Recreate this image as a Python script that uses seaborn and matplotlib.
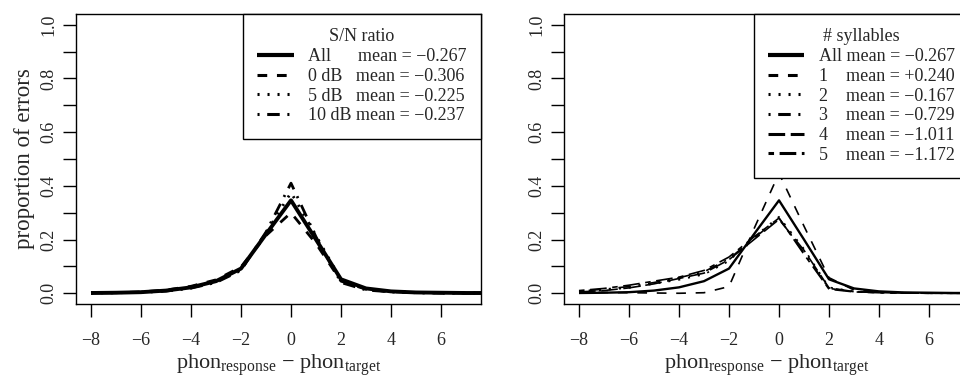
import numpy as np
import pandas as pd
import seaborn as sns
import matplotlib.pyplot as plt

sns.set_style('ticks')
plt.rcParams['font.family'] = ['Liberation Serif', 'DejaVu Serif']
plt.rcParams['mathtext.fontset'] = 'custom'
plt.rcParams['mathtext.rm'] = 'Liberation Serif'
plt.rcParams['mathtext.it'] = 'Liberation Serif:italic'
plt.rcParams['lines.scale_dashes'] = False
plt.rcParams['axes.edgecolor'] = 'black'
plt.rcParams['axes.linewidth'] = 1.0

# phoneme difference (response - target)
diff = list(range(-8, 9))

# left panel: by S/N ratio
sn_labels = ['All      mean = \u22120.267', '0 dB   mean = \u22120.306',
             '5 dB   mean = \u22120.225', '10 dB mean = \u22120.237']
sn_all = [0.001, 0.002, 0.004, 0.010, 0.022, 0.045, 0.092, 0.220, 0.346, 0.200, 0.052, 0.018, 0.007, 0.003, 0.002, 0.001, 0.001]
sn_0db = [0.001, 0.002, 0.005, 0.012, 0.026, 0.050, 0.098, 0.215, 0.300, 0.185, 0.045, 0.015, 0.006, 0.003, 0.001, 0.001, 0.0]
sn_5db = [0.001, 0.002, 0.004, 0.009, 0.020, 0.042, 0.088, 0.225, 0.375, 0.215, 0.050, 0.016, 0.006, 0.002, 0.001, 0.001, 0.0]
sn_10db = [0.001, 0.002, 0.003, 0.008, 0.019, 0.040, 0.085, 0.228, 0.410, 0.210, 0.040, 0.012, 0.005, 0.002, 0.001, 0.0, 0.0]

# right panel: by number of syllables
syl_labels = ['All mean = \u22120.267', '1    mean = +0.240', '2    mean = \u22120.167',
              '3    mean = \u22120.729', '4    mean = \u22121.011', '5    mean = \u22121.172']
syl_all = sn_all
syl_1 = [0.004, 0.003, 0.002, 0.001, 0.000, 0.002, 0.025, 0.240, 0.447, 0.250, 0.058, 0.012, 0.004, 0.002, 0.001, 0.0, 0.0]
syl_2 = [0.006, 0.012, 0.020, 0.035, 0.050, 0.070, 0.120, 0.210, 0.285, 0.165, 0.022, 0.007, 0.003, 0.001, 0.0, 0.0, 0.0]
syl_3 = [0.008, 0.015, 0.025, 0.040, 0.058, 0.080, 0.128, 0.205, 0.280, 0.150, 0.018, 0.006, 0.002, 0.001, 0.0, 0.0, 0.0]
syl_4 = [0.005, 0.010, 0.020, 0.035, 0.055, 0.075, 0.125, 0.200, 0.275, 0.160, 0.020, 0.006, 0.003, 0.001, 0.0, 0.0, 0.0]
syl_5 = [0.010, 0.018, 0.030, 0.045, 0.060, 0.085, 0.135, 0.210, 0.280, 0.145, 0.015, 0.005, 0.002, 0.001, 0.0, 0.0, 0.0]

# R-like line types (in points)
solid = (0, ())
dashed = (0, (7, 7))
dotted = (0, (1.5, 5.7))
dotdash = (0, (1.5, 5.5, 9, 5.5))
longdash = (0, (12, 4))
twodash = (0, (4, 4, 12, 4))

W, H = 960, 377
fig = plt.figure(figsize=(W / 100, H / 100), dpi=100)
ax1 = fig.add_axes([76 / W, 73 / H, 405 / W, 290 / H])
ax2 = fig.add_axes([564 / W, 73 / H, 405 / W, 290 / H])


def draw(ax, series, labels, styles, widths, leg_widths, title):
    for vals, lab, ls, lw in zip(series, labels, styles, widths):
        sns.lineplot(x=diff, y=vals, ax=ax, color='black', linestyle=ls, lw=lw,
                     label=lab, solid_capstyle='butt')
    ax.set_xlim(-8.6, 7.6)
    ax.set_ylim(-0.04, 1.04)
    ax.set_xticks(np.arange(-8, 7, 2))
    ax.set_yticks(np.arange(0, 1.01, 0.2))
    ax.set_yticks(np.arange(0.1, 1.0, 0.2), minor=True)
    ax.tick_params(axis='both', which='both', direction='out', length=9.5, width=1,
                   labelsize=13, color='black')
    ax.tick_params(axis='x', pad=11)
    ax.tick_params(axis='y', pad=4)
    plt.setp(ax.get_yticklabels(), rotation=90, va='center')
    for s in ax.spines.values():
        s.set_visible(True)
        s.set_color('black')
    ax.set_xlabel('phon$_{\\mathrm{response}}$ \u2212 phon$_{\\mathrm{target}}$',
                  fontsize=16, labelpad=2)
    leg = ax.legend(title=title, loc='upper right', bbox_to_anchor=(1, 1),
                    borderaxespad=0, frameon=True, fancybox=False, framealpha=1,
                    edgecolor='black', fontsize=13, title_fontsize=13,
                    handlelength=2.0, handletextpad=0.8, labelspacing=0.15,
                    borderpad=0.8)
    leg.get_frame().set_linewidth(1)
    for ln, lw in zip(leg.get_lines(), leg_widths):
        ln.set_linewidth(lw)


draw(ax1, [sn_all, sn_0db, sn_5db, sn_10db], sn_labels,
     [solid, dashed, dotted, dotdash], [2.8, 2.0, 2.0, 2.0], [3.0, 2.2, 2.2, 2.2],
     'S/N ratio')
draw(ax2, [syl_all, syl_1, syl_2, syl_3, syl_4, syl_5], syl_labels,
     [solid, dashed, dotted, dotdash, longdash, twodash],
     [1.7, 1.2, 1.2, 1.2, 1.2, 1.2], [3.0, 2.2, 2.2, 2.2, 2.2, 2.2], '# syllables')

ax1.set_ylabel('proportion of errors', fontsize=16.5, labelpad=3.5)
ax2.set_ylabel('')

fig.savefig('out.png', dpi=100)
